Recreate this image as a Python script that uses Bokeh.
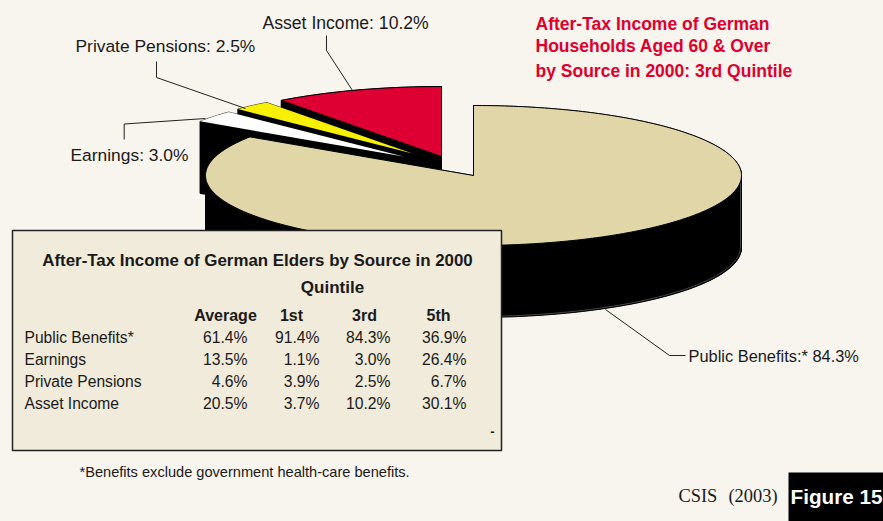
import numpy as np
from bokeh.plotting import figure
from bokeh.models import Range1d, GlobalInlineStyleSheet
from bokeh.core.properties import value
from bokeh.embed import file_html
from bokeh.resources import INLINE

# ---- data ----
sources = ["Public Benefits", "Earnings", "Private Pensions", "Asset Income"]
pie_values = [84.3, 3.0, 2.5, 10.2]
pie_labels = ["Public Benefits:* 84.3%", "Earnings: 3.0%", "Private Pensions: 2.5%", "Asset Income: 10.2%"]
table_rows = ["Public Benefits*", "Earnings", "Private Pensions", "Asset Income"]
table_cols = ["Average", "1st", "3rd", "5th"]
col_average = ["61.4%", "13.5%", "4.6%", "20.5%"]
col_first = ["91.4%", "1.1%", "3.9%", "3.7%"]
col_third = ["84.3%", "3.0%", "2.5%", "10.2%"]
col_fifth = ["36.9%", "26.4%", "6.7%", "30.1%"]
title_lines = ["After-Tax Income of German", "Households Aged 60 & Over", "by Source in 2000: 3rd Quintile"]

# ---- style / layout ----
BG, PANEL = "#f8f4ee", "#f0ebda"
RED, YEL, TAN = "#de0033", "#f7f000", "#e0d6a8"
FONT = value("Liberation Sans")
W, H = 883, 521
RX, RY, DEPTH = 268, 70, 72
slice_tip = [(473, 175), (403, 156), (412, 153), (441, 156)]
slice_scale = [1.0, 0.91, 0.91, 1.0]
slice_fill = [TAN, "white", YEL, RED]
slice_edge = [1, 0, 0, 1]

p = figure(width=W, height=H, output_backend="svg", toolbar_location=None,
           x_range=Range1d(0, W), y_range=Range1d(H, 0), min_border=0,
           background_fill_color=BG, border_fill_color=BG, outline_line_color=None)
p.axis.visible = False
p.grid.visible = False
p.stylesheets = [GlobalInlineStyleSheet(css=f"html,body{{margin:0;padding:0;background:{BG};overflow:hidden}}")]

def txt(x, y, s, size, color="#1a1a1a", bold=False, align="left", font=FONT):
    p.text([x], [y], text=[s], text_font=font, text_font_size=f"{size}px",
           text_color=color, text_align=align, text_baseline="middle",
           text_font_style="bold" if bold else "normal")

# ---- pie ----
edges = np.concatenate([[0], np.cumsum(pie_values)]) / sum(pie_values) * 2 * np.pi

def top_poly(i):
    th = np.linspace(edges[i], edges[i + 1], max(4, int((edges[i + 1] - edges[i]) * 60)))
    cx, cy = slice_tip[i]
    s = slice_scale[i]
    xs = np.concatenate([[cx], cx + s * RX * np.sin(th)])
    ys = np.concatenate([[cy], cy - s * RY * np.cos(th)])
    return xs, ys

def draw_slice(i):
    xs, ys = top_poly(i)
    n = len(xs)
    qx, qy = [xs], [ys + DEPTH]
    for k in range(n):
        j = (k + 1) % n
        qx.append([xs[k], xs[j], xs[j], xs[k]])
        qy.append([ys[k], ys[j], ys[j] + DEPTH, ys[k] + DEPTH])
    p.patches(qx, qy, fill_color="black", line_color="black", line_width=0.6)
    if i == 0:
        # thin highlight just inside the outer rim of the main slice
        th = np.linspace(np.pi * 0.5, np.pi, 120)
        hx = slice_tip[0][0] + (RX - 1) * np.sin(th)
        hy = slice_tip[0][1] - RY * np.cos(th) + DEPTH - 1
        hx = np.concatenate([[hx[0]], hx])
        hy = np.concatenate([[slice_tip[0][1] + 2], hy])
        p.line(hx, hy, line_color="#777777", line_width=0.6)
    p.patch(xs, ys, fill_color=slice_fill[i],
            line_color="black" if slice_edge[i] else None, line_width=1)

for i in [3, 2, 1, 0]:
    draw_slice(i)

# ---- leader lines ----
leaders = [
    ([605, 669, 685], [309, 355, 355]),
    ([123.7, 123.7, 205], [139, 123.5, 118]),
    ([156, 156, 245], [61, 77, 108]),
    ([326, 326, 352], [35, 50, 90]),
]
for lx, ly in leaders:
    p.line(lx, ly, line_color="#222222", line_width=1)

txt(688, 355, pie_labels[0], 16.4)
txt(70, 154, pie_labels[1], 17.4)
txt(75, 45, pie_labels[2], 17.4)
txt(262, 22, pie_labels[3], 17.6)

for yy, line in zip([23, 45, 70], title_lines):
    txt(535, yy, line, 17.5, color="#e0002d", bold=True)

# ---- table panel ----
p.quad(left=[12], right=[501], top=[230], bottom=[450], fill_color=PANEL,
       line_color="#222222", line_width=1.5)
txt(257, 260, "After-Tax Income of German Elders by Source in 2000", 16.9, bold=True, align="center")
txt(332, 287, "Quintile", 17, bold=True, align="center")
for cx, c in zip([225, 291, 364, 438], table_cols):
    txt(cx, 315, c, 16, bold=True, align="center")
row_y = [337, 359, 381, 403]
for ry, r in zip(row_y, table_rows):
    txt(24, ry, r, 15.6)
for rx, col in zip([247, 319, 390, 466], [col_average, col_first, col_third, col_fifth]):
    for ry, v in zip(row_y, col):
        txt(rx, ry, v, 15.7, align="right")
txt(492, 431, "-", 13, bold=True, align="center")

txt(79, 471, "*Benefits exclude government health-care benefits.", 14.6)
txt(678, 495, "CSIS", 18.4, font=value("Liberation Serif"))
txt(728, 495, "(2003)", 18.4, font=value("Liberation Serif"))
p.quad(left=[788], right=[883], top=[472], bottom=[521], fill_color="black", line_color=None)
txt(790, 496, "Figure 15", 20.7, color="white", bold=True)

open("out.html", "w").write(file_html(p, INLINE))
